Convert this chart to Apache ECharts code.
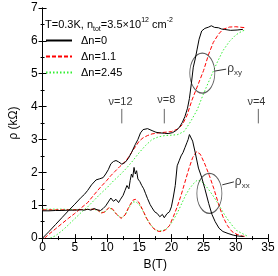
<!DOCTYPE html>
<html><head><meta charset="utf-8">
<script src="https://cdn.jsdelivr.net/npm/echarts@6/dist/echarts.min.js"></script>
<style>html,body{margin:0;padding:0;background:#fff}#c{width:278px;height:276px}</style>
</head><body><div id="c"></div>
<script>
// ---- data (B in T, rho in kOhm) ----
const seriesNames = ['Δn=0', 'Δn=1.1', 'Δn=2.45'];
const xTicks = [0, 5, 10, 15, 20, 25, 30, 35];
const yTicks = [0, 1, 2, 3, 4, 5, 6, 7];

const bXy0 = [0,1,2,3,4,5,6,6.5,7,7.6,8.3,8.8,9.4,9.8,10.2,10.6,11,11.4,11.8,12.3,12.8,13.3,13.8,14.4,14.8,15.2,15.6,15.9,16.3,17,17.6,18.2,18.9,19.5,20.2,20.7,21.2,21.7,22.1,22.5,22.8,23.1,23.4,23.7,24.0,24.3,24.7,25.2,25.8,26.2,26.7,27.3,27.8,28.2,29.2,30.2,31.1];
const rXy0 = [0,0.2,0.41,0.62,0.83,1.03,1.24,1.33,1.45,1.62,1.77,1.8,1.84,1.95,2.08,2.26,2.33,2.36,2.32,2.25,2.3,2.42,2.6,2.85,3.0,3.2,3.3,3.36,3.33,3.27,3.22,3.2,3.19,3.18,3.21,3.27,3.36,3.52,3.7,3.95,4.25,4.7,5.2,5.45,5.75,6.05,6.3,6.38,6.42,6.46,6.41,6.4,6.36,6.35,6.32,6.33,6.35];

const bXy1 = [0.3,1,2,3,4,5,6,7,8,9,10,10.6,11.2,12,12.6,13.3,14,15,15.6,16.3,17,18,19,20,21,21.7,22.4,23.2,24.2,25,25.8,26.5,27.3,28,29,30,31.5];
const rXy1 = [0,0.12,0.28,0.44,0.6,0.75,0.92,1.08,1.32,1.55,1.76,1.9,2.02,2.18,2.28,2.45,2.66,2.95,3.05,3.12,3.17,3.2,3.22,3.24,3.32,3.45,3.72,4.2,4.7,5.1,5.6,5.95,6.2,6.35,6.42,6.43,6.4];

const bXy2 = [1.2,2,3,4,5,6,7,8,9,10,11,12,13,14,15,16,17,18,19,20,21,22,23,24,25,26,27,28,29,30,31,31.5];
const rXy2 = [0,0.07,0.22,0.4,0.59,0.78,0.95,1.15,1.35,1.53,1.74,1.92,2.12,2.35,2.6,2.82,3.0,3.08,3.12,3.13,3.15,3.25,3.55,3.9,4.4,4.85,5.3,5.7,5.98,6.18,6.3,6.33];

const bXx0 = [0,1,2,3,4,5,6,6.5,7,7.5,8,8.5,9,9.4,9.8,10.2,10.6,11,11.4,11.8,12.1,12.5,12.8,13.1,13.4,13.6,13.8,14.0,14.2,14.4,14.6,14.8,15.1,15.4,15.7,16.0,16.3,16.7,17.0,17.4,17.8,18.2,18.6,18.9,19.3,19.7,20.0,20.3,20.6,20.9,21.2,21.5,21.8,22.1,22.4,22.6,22.8,23.0,23.3,23.7,24.2,24.7,25.2,25.8,26.3,26.8,27.4,28.0,28.8,29.6,30.4,31.2];
const rXx0 = [0.83,0.83,0.84,0.84,0.85,0.85,0.86,0.85,0.88,0.85,0.9,0.86,0.84,0.9,0.98,1.1,1.22,1.12,1.18,1.08,1.18,1.3,1.45,1.6,1.5,1.75,1.95,1.85,2.15,1.95,2.05,1.8,1.72,1.6,1.5,1.35,1.2,1.02,0.92,0.8,0.75,0.65,0.72,0.62,0.74,0.8,0.95,1.25,1.6,2.2,2.35,2.5,2.6,2.75,2.9,3.0,3.15,3.2,2.95,2.6,2.13,1.85,1.5,1.05,0.72,0.5,0.3,0.2,0.14,0.09,0.06,0.05];

const bXx1 = [0,1,2,3,4,5,6,7,7.8,8.5,9.1,9.7,10.3,10.9,11.5,12.2,12.8,13.4,14.0,14.4,14.9,15.5,16.1,16.7,17.3,17.9,18.5,19.1,19.7,20.3,20.9,21.5,22.1,22.7,23.3,23.9,24.5,25.2,25.9,26.6,27.3,28.0,28.7,29.4,30.2,31.0,31.5];
const rXx1 = [0.86,0.86,0.86,0.86,0.86,0.86,0.87,0.87,0.88,0.86,0.76,0.8,0.93,0.88,0.72,0.6,0.7,0.95,1.15,1.18,1.1,0.88,0.62,0.42,0.28,0.21,0.2,0.25,0.38,0.65,0.95,1.3,1.7,2.1,2.45,2.63,2.55,2.25,1.9,1.5,1.05,0.65,0.38,0.2,0.11,0.06,0.05];

const bXx2 = [0,1,2,3,4,5,6,7,7.8,8.5,9.1,9.7,10.3,10.9,11.5,12.2,12.8,13.4,14.0,14.5,15.0,15.6,16.2,16.8,17.4,18.0,18.6,19.2,19.8,20.4,21.0,21.6,22.2,22.8,23.4,24.0,24.6,25.3,26.0,26.7,27.4,28.1,28.8,29.5,30.2,31.0,31.8];
const rXx2 = [0.88,0.88,0.88,0.88,0.87,0.87,0.87,0.87,0.88,0.85,0.78,0.8,0.92,0.86,0.72,0.62,0.7,0.92,1.1,1.1,1.02,0.82,0.58,0.4,0.27,0.22,0.22,0.28,0.4,0.58,0.8,1.05,1.3,1.5,1.65,1.76,1.74,1.6,1.42,1.22,1.0,0.76,0.55,0.37,0.22,0.14,0.06];

// annotations (data coordinates)
const nuLabels = ['ν=12', 'ν=8', 'ν=4'];
const nuTextPos = [[12.1, 4.13], [19.2, 4.19], [33.2, 4.15]];
const nuTickB = [12.3, 18.9, 33.5];
const nuTickRho = [3.49, 3.93];
const ellipseCenters = [[24.8, 5.02], [25.9, 1.36]];
const ellipseLabels = ['{r|ρ}{s|xy}', '{r|ρ}{s|xx}'];
const connectors = [[[26.7, 5.08], [28.5, 5.14]], [[27.9, 1.62], [29.7, 1.71]]];

// ---- chart ----
const FONT = 'Liberation Sans, Arial, sans-serif';
const zip = (b, r) => b.map((v, i) => [v, r[i]]);
const colors = ['#000000', '#ff0000', '#33ee33'];
const lineTypes = ['solid', [4, 2], [1.5, 2]];
const curves = [[bXy0, rXy0, bXx0, rXx0], [bXy1, rXy1, bXx1, rXx1], [bXy2, rXy2, bXx2, rXx2]];

const series = [];
curves.forEach((c, i) => {
  [[c[0], c[1]], [c[2], c[3]]].forEach(p => {
    series.push({
      name: seriesNames[i], type: 'line', data: zip(p[0], p[1]),
      showSymbol: false, symbol: 'none', silent: true,
      lineStyle: { color: colors[i], width: 1, type: lineTypes[i] },
      itemStyle: { color: colors[i] }, z: 3 - i
    });
  });
});

// nu labels
series.push({
  type: 'scatter', symbolSize: 0, silent: true,
  data: nuTextPos.map((p, i) => ({ value: p, label: { formatter: nuLabels[i] } })),
  label: { show: true, position: 'inside', fontSize: 11, fontFamily: FONT, color: '#000' }
});
// nu tick marks
nuTickB.forEach(b => {
  series.push({
    type: 'line', data: [[b, nuTickRho[0]], [b, nuTickRho[1]]],
    showSymbol: false, symbol: 'none', silent: true,
    lineStyle: { color: '#666', width: 1 }
  });
});
// ellipses
series.push({
  type: 'scatter', symbol: 'circle', symbolSize: [25, 40], silent: true,
  data: ellipseCenters,
  itemStyle: { color: 'rgba(0,0,0,0)', borderColor: '#333', borderWidth: 1 }
});
// connectors + labels
connectors.forEach((seg, i) => {
  series.push({
    type: 'line', data: seg, showSymbol: false, symbol: 'none', silent: true,
    lineStyle: { color: '#333', width: 1 }
  });
  series.push({
    type: 'scatter', symbolSize: 0, silent: true,
    data: [seg[1]],
    label: {
      show: true, position: 'right', distance: 1, formatter: ellipseLabels[i],
      rich: {
        r: { fontSize: 12, fontFamily: FONT, color: '#000', lineHeight: 16, verticalAlign: 'middle' },
        s: { fontSize: 8, fontFamily: FONT, color: '#000', verticalAlign: 'bottom', lineHeight: 16 }
      }
    }
  });
});

const axisCommon = {
  axisLine: { show: true, lineStyle: { color: '#000', width: 1 } },
  axisTick: { show: true, inside: true, length: 4, lineStyle: { color: '#000' } },
  minorTick: { show: true, splitNumber: 2, length: 2, lineStyle: { color: '#000' } },
  splitLine: { show: false }
};

const option = {
  animation: false,
  backgroundColor: '#fff',
  title: {
    left: 40, top: 12,
    text: '{a|T=0.3K, n}{b|tot}{a|=3.5×10}{c|12}{a| cm}{c|-2}',
    textStyle: {
      fontWeight: 'normal',
      rich: {
        a: { fontSize: 11, fontFamily: FONT, color: '#000', lineHeight: 16, fontWeight: 'normal' },
        b: { fontSize: 7, fontFamily: FONT, color: '#000', lineHeight: 16, verticalAlign: 'bottom', fontWeight: 'normal' },
        c: { fontSize: 7, fontFamily: FONT, color: '#000', lineHeight: 16, verticalAlign: 'top', fontWeight: 'normal' }
      }
    }
  },
  legend: {
    data: seriesNames, orient: 'vertical', left: 40, top: 30,
    itemWidth: 26, itemHeight: 10, itemGap: 5,
    itemStyle: { opacity: 0 },
    textStyle: { fontSize: 11, fontFamily: FONT, color: '#000', padding: [0, 0, 0, 4] }
  },
  grid: { left: 37, right: 10, top: 8, bottom: 31 },
  xAxis: [
    Object.assign({}, axisCommon, {
      type: 'value', min: 0, max: 35, interval: 5, position: 'bottom',
      name: 'B(T)', nameLocation: 'middle', nameGap: 16,
      nameTextStyle: { fontSize: 12, fontFamily: FONT, color: '#000' },
      axisLabel: { fontSize: 12, fontFamily: FONT, color: '#000', margin: 4,
        formatter: v => xTicks.indexOf(v) >= 0 ? String(v) : '' }
    }),
    Object.assign({}, axisCommon, {
      type: 'value', min: 0, max: 35, interval: 5, position: 'top',
      axisLabel: { show: false }
    })
  ],
  yAxis: [
    Object.assign({}, axisCommon, {
      type: 'value', min: 0, max: 7, interval: 1, position: 'left',
      name: 'ρ (kΩ)', nameLocation: 'middle', nameGap: 20, nameRotate: 90,
      nameTextStyle: { fontSize: 12, fontFamily: FONT, color: '#000' },
      axisLabel: { fontSize: 12, fontFamily: FONT, color: '#000', margin: 5,
        formatter: v => yTicks.indexOf(v) >= 0 ? String(v) : '' }
    }),
    Object.assign({}, axisCommon, {
      type: 'value', min: 0, max: 7, interval: 1, position: 'right',
      axisLabel: { show: false }
    })
  ],
  series: series
};

const chart = echarts.init(document.getElementById('c'), null, { renderer: 'canvas' });
chart.setOption(option);
</script>
</body></html>
